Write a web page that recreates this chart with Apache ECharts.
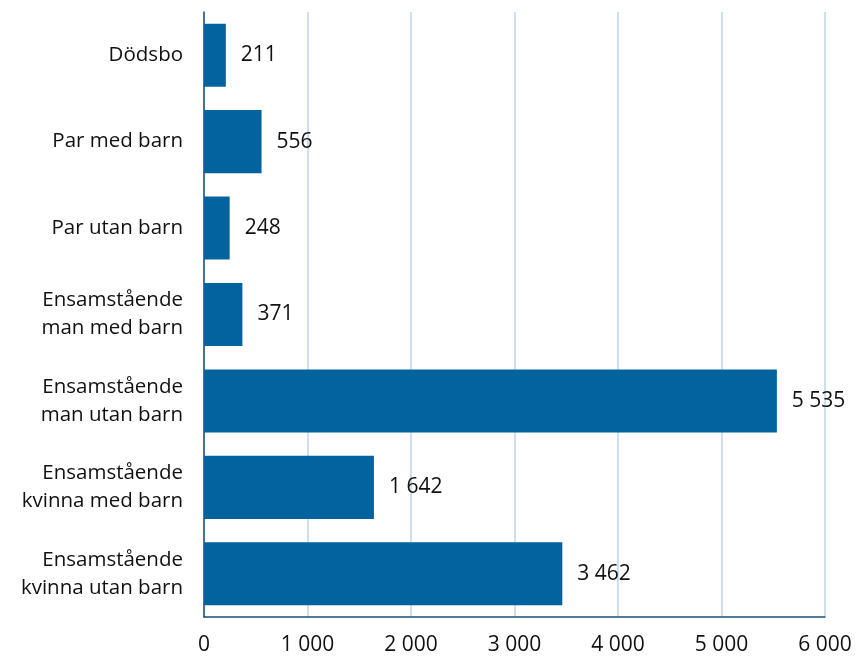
<!DOCTYPE html>
<html>
<head>
<meta charset="utf-8">
<script src="https://cdn.jsdelivr.net/npm/echarts@6/dist/echarts.min.js"></script>
<style>
  * { margin: 0; padding: 0; }
  #chart { width: 867px; height: 659px; }
</style>
</head>
<body>
<div id="chart"></div>
<script>
var categories = [
  'Dödsbo',
  'Par med barn',
  'Par utan barn',
  'Ensamstående\nman med barn',
  'Ensamstående\nman utan barn',
  'Ensamstående\nkvinna med barn',
  'Ensamstående\nkvinna utan barn'
];
var values = [211, 556, 248, 371, 5535, 1642, 3462];
var xTicks = [0, 1000, 2000, 3000, 4000, 5000, 6000];

// tusental med mellanslag
function fmt(v) {
  return String(v).replace(/\B(?=(\d{3})+(?!\d))/g, ' ');
}

var chart = echarts.init(document.getElementById('chart'));
chart.setOption({
  animation: false,
  textStyle: { fontFamily: '"Open Sans", sans-serif' },
  grid: { left: 204, right: 42, top: 12, bottom: 42, containLabel: false },
  xAxis: {
    type: 'value',
    min: xTicks[0],
    max: xTicks[xTicks.length - 1],
    interval: 1000,
    axisLine: { show: true, lineStyle: { color: '#1f4e79', width: 1.5 } },
    axisTick: { show: false },
    axisLabel: { color: '#111', fontSize: 21, margin: 18, formatter: fmt },
    splitLine: { show: true, lineStyle: { color: '#bcd6ee', width: 1.5 } }
  },
  yAxis: {
    type: 'category',
    inverse: true,
    data: categories,
    axisLine: { show: true, lineStyle: { color: '#1f4e79', width: 1.5 } },
    axisTick: { show: false },
    axisLabel: { color: '#111', fontSize: 20.5, lineHeight: 28, margin: 21, align: 'right' }
  },
  series: [{
    type: 'bar',
    data: values,
    barCategoryGap: '27%',
    itemStyle: { color: '#03639e' },
    label: {
      show: true,
      position: 'right',
      distance: 15,
      color: '#111',
      fontSize: 21,
      formatter: function (p) { return fmt(p.value); }
    }
  }]
});
</script>
</body>
</html>
